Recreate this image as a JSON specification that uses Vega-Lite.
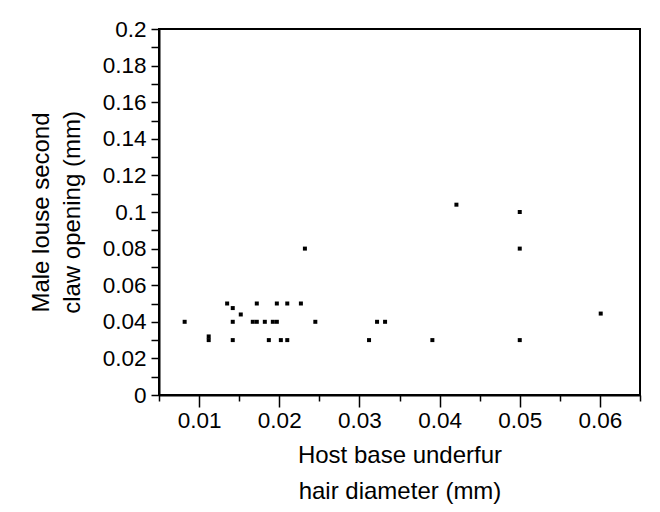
{
  "$schema": "https://vega.github.io/schema/vega-lite/v6.json",
  "autosize": {"type": "none"},
  "padding": {"left": 159, "top": 29, "right": 20, "bottom": 117},
  "width": 481,
  "height": 366,
  "background": "white",
  "config": {
    "font": "Liberation Sans",
    "view": {"stroke": "black", "strokeWidth": 2},
    "axis": {
      "domainColor": "black", "domainWidth": 2, "tickColor": "black", "tickWidth": 1.5,
      "labelColor": "black", "labelFontSize": 22.5, "labelFont": "Liberation Sans",
      "titleColor": "black", "titleFontSize": 24, "titleFont": "Liberation Sans", "titleFontWeight": "normal",
      "grid": false
    }
  },
  "data": {"values": [
    {"hair": 0.0082, "claw": 0.04},
    {"hair": 0.0112, "claw": 0.032},
    {"hair": 0.0112, "claw": 0.03},
    {"hair": 0.0135, "claw": 0.05},
    {"hair": 0.0142, "claw": 0.0475},
    {"hair": 0.0142, "claw": 0.04},
    {"hair": 0.0142, "claw": 0.03},
    {"hair": 0.0152, "claw": 0.044},
    {"hair": 0.0167, "claw": 0.04},
    {"hair": 0.0172, "claw": 0.04},
    {"hair": 0.0172, "claw": 0.05},
    {"hair": 0.0182, "claw": 0.04},
    {"hair": 0.0187, "claw": 0.03},
    {"hair": 0.0192, "claw": 0.04},
    {"hair": 0.0197, "claw": 0.04},
    {"hair": 0.0197, "claw": 0.05},
    {"hair": 0.0202, "claw": 0.03},
    {"hair": 0.021, "claw": 0.05},
    {"hair": 0.021, "claw": 0.03},
    {"hair": 0.0227, "claw": 0.05},
    {"hair": 0.0232, "claw": 0.08},
    {"hair": 0.0245, "claw": 0.04},
    {"hair": 0.0312, "claw": 0.03},
    {"hair": 0.0322, "claw": 0.04},
    {"hair": 0.0332, "claw": 0.04},
    {"hair": 0.0391, "claw": 0.03},
    {"hair": 0.0421, "claw": 0.104},
    {"hair": 0.05, "claw": 0.1},
    {"hair": 0.05, "claw": 0.08},
    {"hair": 0.05, "claw": 0.03},
    {"hair": 0.0601, "claw": 0.0445}
  ]},
  "mark": {"type": "point", "shape": "square", "filled": true, "size": 16, "color": "black", "opacity": 1, "strokeWidth": 0},
  "encoding": {
    "x": {
      "field": "hair", "type": "quantitative",
      "scale": {"domain": [0.005, 0.065], "nice": false, "zero": false},
      "axis": {
        "title": ["Host base underfur", "hair diameter (mm)"],
        "titleLineHeight": 36,
        "titlePadding": 12,
        "values": [0.005, 0.01, 0.015, 0.02, 0.025, 0.03, 0.035, 0.04, 0.045, 0.05, 0.055, 0.06, 0.065],
        "labelExpr": "abs(datum.value*100 - round(datum.value*100)) < 0.001 ? format(datum.value, '~g') : ''",
        "tickSize": {"condition": {"test": "abs(datum.value*100 - round(datum.value*100)) < 0.001", "value": 12}, "value": 6},
        "labelPadding": 2,
        "labelFlush": false,
        "labelOverlap": false
      }
    },
    "y": {
      "field": "claw", "type": "quantitative",
      "scale": {"domain": [0, 0.2], "nice": false},
      "axis": {
        "title": ["Male louse second", "claw opening (mm)"],
        "titleLineHeight": 31,
        "titlePadding": 18,
        "values": [0, 0.01, 0.02, 0.03, 0.04, 0.05, 0.06, 0.07, 0.08, 0.09, 0.1, 0.11, 0.12, 0.13, 0.14, 0.15, 0.16, 0.17, 0.18, 0.19, 0.2],
        "labelExpr": "abs(datum.value*50 - round(datum.value*50)) < 0.001 ? format(datum.value, '~g') : ''",
        "tickSize": 8,
        "labelPadding": 5,
        "labelFlush": false,
        "labelOverlap": false
      }
    }
  }
}
